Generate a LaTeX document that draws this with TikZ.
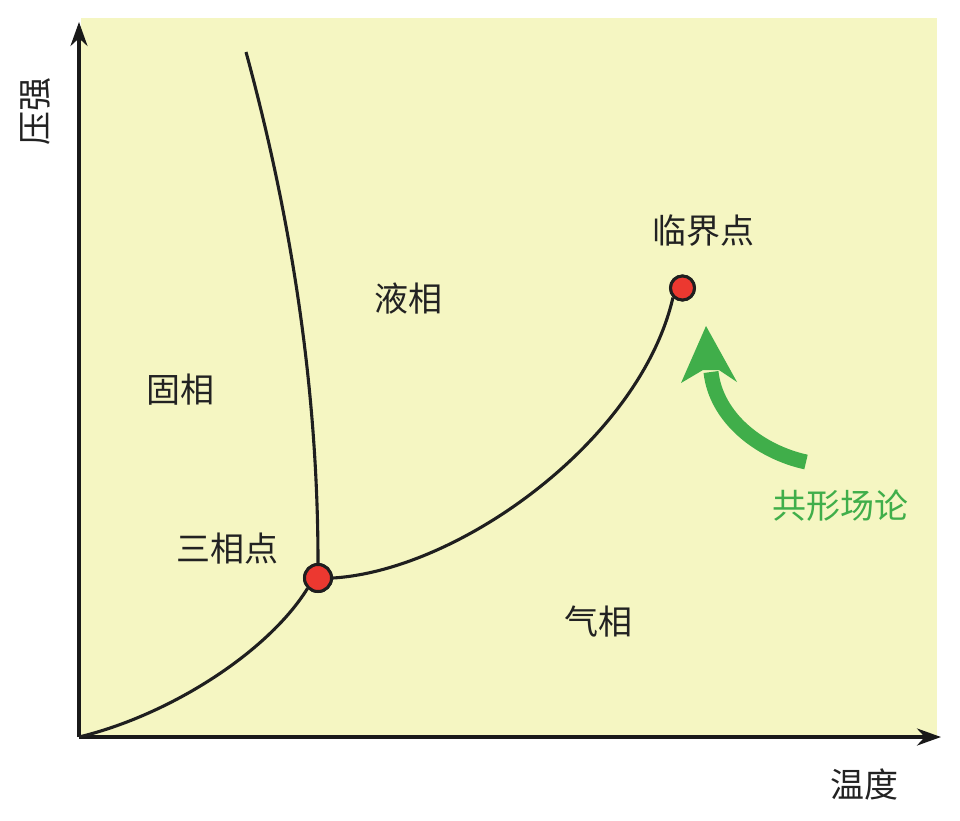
\documentclass[tikz,border=0pt]{standalone}
\usepackage{fontspec}
\newfontfamily\cjk{Noto Sans CJK SC}
\usetikzlibrary{arrows.meta}
\definecolor{bgyellow}{RGB}{245,246,194}
\definecolor{ptred}{RGB}{236,56,48}
\definecolor{arrgreen}{RGB}{64,174,74}
\definecolor{txtgray}{RGB}{34,34,34}
\tikzset{
  lbl/.style={font=\cjk\fontsize{34}{34}\selectfont, text=txtgray, inner sep=0pt},
  axisline/.style={line width=3.4pt, draw=black!90, -{Stealth[length=24pt,width=17pt]}},
  phaseline/.style={line width=3.1pt, draw=black!88},
  phasepoint/.style={circle, fill=ptred, draw=black!88, line width=3pt, inner sep=0pt},
}
\begin{document}
\begin{tikzpicture}[x=1pt,y=-1pt]
\useasboundingbox (0,0) rectangle (960,820);
\fill[bgyellow] (81,18) rectangle (937,736);
% axes
\coordinate (O) at (79,737);
\coordinate (ytip) at (79,22);
\coordinate (xtip) at (941,737);
\draw[axisline] (O) -- (ytip);
\draw[axisline] (O) -- (xtip);
% points
\node[phasepoint, minimum size=27pt] (tp) at (318,578) {};
\node[phasepoint, minimum size=24pt] (cp) at (682.5,288) {};
\coordinate (mtop) at (246,52);
% curves
\draw[phaseline] (mtop) .. controls (300,250) and (318,420) .. (tp.north);
\draw[phaseline] (O) .. controls (170,715) and (268,652) .. (tp.south west);
\draw[phaseline] (tp.east) .. controls (460,570) and (640,440) .. (cp.south west);
% redraw points on top
\node[phasepoint, minimum size=27pt] at (tp) {};
\node[phasepoint, minimum size=24pt] at (cp) {};
% green arrow
\coordinate (gstart) at (806,462);
\coordinate (gend) at (711,372);
\draw[arrgreen, line width=15pt] (gstart) .. controls (760,452) and (716,418) .. (gend);
\fill[arrgreen] (681,383) -- (706,326) -- (737,382) -- (719,370) -- (703,370) -- cycle;
% labels
\node[lbl] (ly) at (36,111) [rotate=90] {压强};
\node[lbl] (lx) at (864,784) {温度};
\node[lbl] (liq) at (408,299) {液相};
\node[lbl] (sol) at (180,390) {固相};
\node[lbl] (tpl) at (227.5,549) {三相点};
\node[lbl] (gas) at (598,621.5) {气相};
\node[lbl] (cpl) at (703.5,231) {临界点};
\node[lbl, text=arrgreen] (cft) at (840,506) {共形场论};
\end{tikzpicture}
\end{document}
